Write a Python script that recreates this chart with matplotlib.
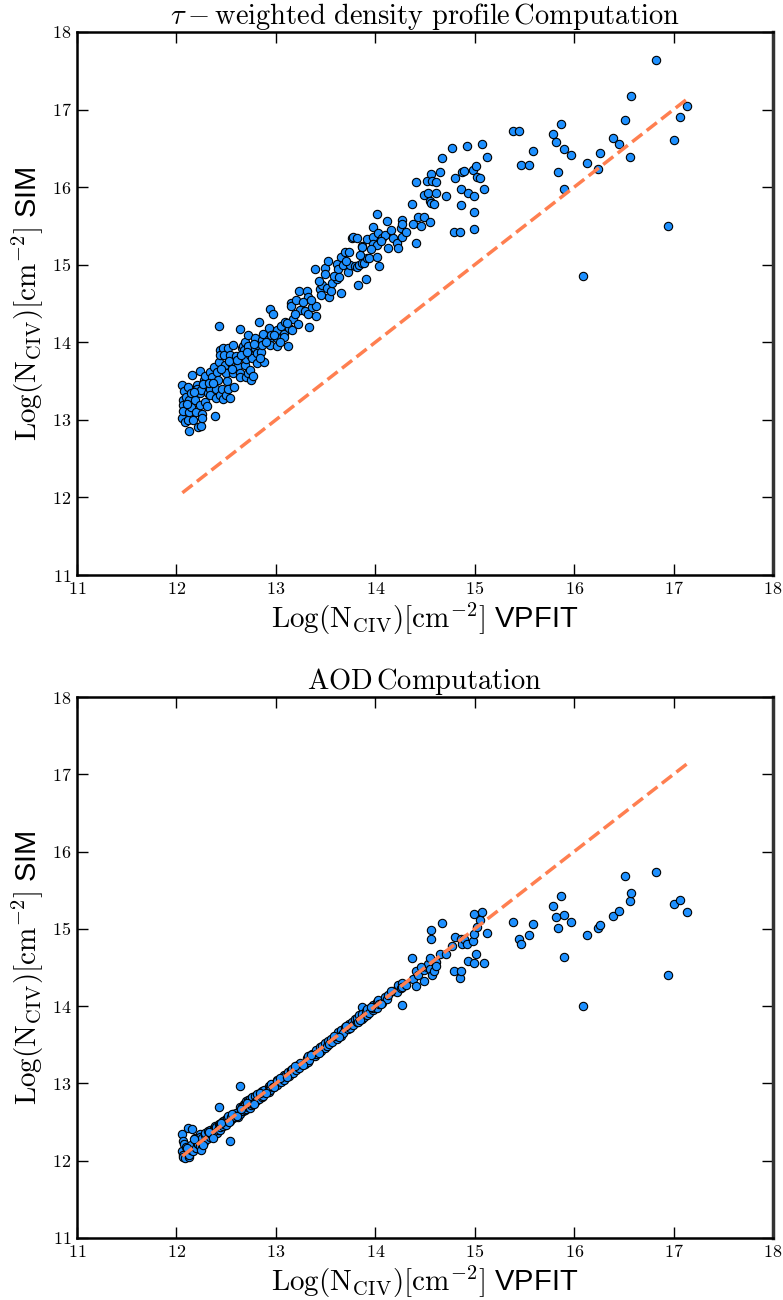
import matplotlib
matplotlib.use("Agg")
import matplotlib.pyplot as plt

# ---------------- data ----------------
vpfit = [
    # 12.06 - 12.32
    12.06, 12.06, 12.07, 12.07, 12.07, 12.08, 12.09, 12.10, 12.12, 12.12, 12.13, 12.13, 12.13, 12.15, 12.15, 12.16, 12.17,
    12.19, 12.20, 12.21, 12.21, 12.22, 12.24, 12.24, 12.24, 12.25, 12.25, 12.26, 12.26, 12.28, 12.29, 12.29, 12.31, 12.32,
    # 12.34 - 12.60
    12.34, 12.34, 12.34, 12.36, 12.38, 12.39, 12.40, 12.40, 12.41, 12.42, 12.43, 12.43, 12.44, 12.44, 12.44, 12.46,
    12.47, 12.47, 12.48, 12.49, 12.50, 12.50, 12.51, 12.52, 12.52, 12.54, 12.54, 12.55, 12.57, 12.57, 12.58, 12.60,
    # 12.62 - 12.88
    12.62, 12.64, 12.64, 12.64, 12.66, 12.67, 12.68, 12.69, 12.69, 12.70, 12.70, 12.72, 12.72, 12.72, 12.74,
    12.74, 12.75, 12.76, 12.77, 12.79, 12.79, 12.81, 12.81, 12.83, 12.85, 12.86, 12.86, 12.87, 12.88,
    # 12.93 - 13.36
    12.93, 12.93, 12.94, 12.94, 12.95, 12.97, 13.01, 13.01, 13.01, 13.05, 13.08, 13.08, 13.09, 13.12, 13.13,
    13.15, 13.15, 13.16, 13.17, 13.20, 13.22, 13.23, 13.24, 13.29, 13.31, 13.32, 13.32, 13.33, 13.36,
    # 13.39 - 13.94
    13.39, 13.40, 13.40, 13.44, 13.45, 13.46, 13.49, 13.49, 13.51, 13.52, 13.53, 13.55, 13.56, 13.61, 13.61, 13.63,
    13.66, 13.66, 13.68, 13.70, 13.73, 13.74, 13.75, 13.77, 13.78, 13.80, 13.82, 13.82, 13.83, 13.84, 13.87, 13.87,
    13.87, 13.89, 13.91, 13.92, 13.92, 13.94,
    # 13.98 - 14.49
    13.98, 13.98, 13.98, 14.02, 14.02, 14.02, 14.03, 14.04, 14.07, 14.10, 14.12, 14.13, 14.18, 14.22, 14.23, 14.26,
    14.27, 14.27, 14.27, 14.37, 14.38, 14.41, 14.41, 14.43, 14.49, 14.49,
    # 14.52 - 15.12
    14.52, 14.53, 14.55, 14.55, 14.56, 14.56, 14.57, 14.59, 14.61, 14.61, 14.65, 14.67, 14.71, 14.77, 14.79, 14.80,
    14.85, 14.86, 14.86, 14.87, 14.89, 14.92, 14.93, 14.98, 14.99, 14.99, 14.99, 15.01, 15.02, 15.05, 15.07, 15.09, 15.12,
    # sparse high end
    15.39, 15.45, 15.47, 15.55, 15.59, 15.79, 15.82, 15.84, 15.87, 15.90, 15.90, 15.97, 16.09, 16.13, 16.24, 16.26,
    16.39, 16.45, 16.51, 16.56, 16.57, 16.82, 16.94, 17.00, 17.06, 17.14,
    # further points inside the dense band
    12.11, 12.18, 12.27, 12.33, 12.37, 12.45, 12.53, 12.56, 12.61, 12.65, 12.71, 12.78, 12.84, 12.90, 12.98,
    13.04, 13.11, 13.19, 13.27, 13.35, 13.43, 13.58, 13.64, 13.71, 13.85, 13.96, 14.06, 14.16, 14.31, 14.46,
]

sim_tau = [
    13.45, 13.02, 13.26, 13.19, 13.12, 13.37, 12.97, 13.30, 13.42, 13.00, 13.25, 13.10, 12.86, 13.34, 13.17, 13.58, 13.00,
    13.26, 13.10, 13.45, 13.40, 12.91, 13.63, 13.34, 13.19, 13.39, 12.92, 13.08, 13.03, 13.52, 13.57, 13.23, 13.18, 13.35,
    13.62, 13.40, 13.32, 13.55, 13.68, 13.05, 13.40, 13.28, 13.62, 13.51, 13.75, 14.21, 13.90, 13.83, 13.32, 13.40,
    13.92, 13.27, 13.83, 13.71, 13.61, 13.32, 13.50, 13.92, 13.40, 13.83, 13.28, 13.73, 13.96, 13.61, 13.43, 13.82,
    13.69, 14.17, 13.60, 13.55, 13.93, 13.95, 13.90, 14.01, 13.71, 13.79, 13.55, 14.09, 13.95, 13.61, 13.84,
    13.64, 13.52, 13.80, 13.57, 14.05, 13.93, 13.86, 13.73, 14.26, 13.88, 14.03, 13.96, 14.11, 13.75,
    14.18, 14.04, 14.43, 13.96, 14.09, 14.36, 14.16, 14.05, 13.95, 14.21, 14.11, 14.07, 14.26, 13.95, 14.19,
    14.51, 14.47, 14.16, 14.30, 14.54, 14.23, 14.66, 14.42, 14.40, 14.66, 14.59, 14.36, 14.20, 14.45,
    14.95, 14.47, 14.34, 14.69, 14.61, 14.74, 14.96, 14.88, 14.70, 15.05, 14.58, 14.66, 14.77, 15.01, 14.81, 14.94,
    15.10, 14.63, 14.99, 15.17, 14.91, 15.17, 15.00, 15.35, 15.36, 14.98, 15.34, 14.97, 14.74, 15.00, 15.24, 15.23,
    15.02, 15.02, 14.81, 15.33, 15.09, 15.09,
    15.48, 15.36, 15.27, 15.66, 15.26, 15.10, 15.41, 14.98, 15.34, 15.38, 15.56, 15.21, 15.35, 15.28, 15.22, 15.47,
    15.58, 15.52, 15.36, 15.78, 15.53, 16.06, 15.28, 15.61, 15.90, 15.62,
    16.08, 15.93, 15.82, 15.55, 16.17, 15.79, 16.08, 15.78, 16.07, 15.92, 16.19, 16.38, 15.89, 16.51, 15.42, 16.12,
    15.42, 15.97, 15.77, 16.20, 16.21, 16.53, 15.92, 16.22, 15.89, 15.68, 15.46, 16.27, 16.13, 16.12, 16.55, 15.98, 16.39,
    16.73, 16.73, 16.28, 16.28, 16.47, 16.68, 16.58, 16.20, 16.82, 16.49, 15.98, 16.41, 14.85, 16.31, 16.24, 16.44,
    16.63, 16.56, 16.86, 16.39, 17.17, 17.64, 15.50, 16.61, 16.90, 17.05,
    13.20, 13.36, 13.46, 13.48, 13.47, 13.66, 13.76, 13.66, 13.77, 13.83, 13.87, 13.98, 13.80, 14.00, 14.10,
    14.00, 14.25, 14.36, 14.52, 14.55, 14.79, 14.86, 14.84, 15.05, 15.12, 15.20, 15.30, 15.45, 15.42, 15.50,
]

sim_aod = [
    12.34, 12.12, 12.25, 12.08, 12.05, 12.22, 12.03, 12.18, 12.42, 12.10, 12.09, 12.05, 12.07, 12.14, 12.20, 12.41, 12.13,
    12.30, 12.16, 12.23, 12.26, 12.22, 12.35, 12.19, 12.31, 12.14, 12.27, 12.22, 12.30, 12.24, 12.33, 12.36, 12.28, 12.38,
    12.31, 12.40, 12.36, 12.33, 12.42, 12.45, 12.36, 12.44, 12.36, 12.40, 12.69, 12.47, 12.48, 12.40, 12.43, 12.50,
    12.45, 12.52, 12.47, 12.53, 12.50, 12.46, 12.55, 12.51, 12.58, 12.25, 12.52, 12.56, 12.60, 12.55, 12.57, 12.62,
    12.57, 12.97, 12.70, 12.60, 12.69, 12.64, 12.73, 12.66, 12.74, 12.77, 12.67, 12.70, 12.79, 12.76, 12.68,
    12.80, 12.72, 12.82, 12.73, 12.84, 12.76, 12.78, 12.86, 12.80, 12.89, 12.83, 12.90, 12.84, 12.92,
    12.89, 12.97, 12.95, 12.91, 12.99, 12.95, 13.04, 12.98, 13.03, 13.02, 13.11, 13.05, 13.10, 13.15, 13.09,
    13.18, 13.13, 13.19, 13.14, 13.17, 13.24, 13.20, 13.27, 13.25, 13.33, 13.28, 13.35, 13.30, 13.38,
    13.36, 13.43, 13.38, 13.47, 13.42, 13.49, 13.46, 13.52, 13.48, 13.55, 13.51, 13.58, 13.53, 13.63, 13.58, 13.66,
    13.62, 13.69, 13.65, 13.73, 13.70, 13.77, 13.72, 13.80, 13.75, 13.83, 13.79, 13.85, 13.80, 13.88, 13.99, 13.84,
    13.90, 13.86, 13.94, 13.89, 13.96, 13.91,
    13.95, 14.01, 13.98, 14.06, 14.00, 13.97, 14.08, 14.03, 14.04, 14.12, 14.09, 14.15, 14.20, 14.18, 14.27, 14.24,
    14.02, 14.30, 14.25, 14.62, 14.35, 14.26, 14.45, 14.40, 14.47, 14.33,
    14.50, 14.55, 14.48, 14.62, 14.98, 14.87, 14.40, 14.45, 14.57, 14.52, 14.68, 15.08, 14.68, 14.78, 14.45, 14.89,
    14.37, 14.45, 14.87, 14.81, 14.87, 14.80, 14.59, 14.84, 15.19, 14.93, 14.56, 14.68, 15.02, 15.11, 15.22, 14.56, 14.94,
    15.09, 14.87, 14.81, 14.92, 15.06, 15.29, 15.15, 15.01, 15.42, 15.18, 14.63, 15.09, 14.00, 14.92, 15.01, 15.05,
    15.16, 15.23, 15.68, 15.36, 15.46, 15.74, 14.40, 15.32, 15.37, 15.22,
    12.16, 12.28, 12.20, 12.37, 12.29, 12.49, 12.50, 12.60, 12.58, 12.67, 12.75, 12.74, 12.87, 12.88, 12.96,
    13.07, 13.08, 13.22, 13.24, 13.37, 13.40, 13.61, 13.60, 13.74, 13.82, 13.99, 14.03, 14.19, 14.28, 14.50,
]

ticks = [11, 12, 13, 14, 15, 16, 17, 18]
titles = [r"$\tau-\mathrm{weighted\ density\ profile\,Computation}$",
          r"$\mathrm{AOD\,Computation}$"]
xlabel = r"$\mathrm{Log(N_{CIV})[cm^{-2}]}$ VPFIT"
ylabel = r"$\mathrm{Log(N_{CIV})[cm^{-2}]}$ SIM"

# ---------------- styling ----------------
plt.rcParams['font.family'] = ['Liberation Sans', 'DejaVu Sans']
plt.rcParams['mathtext.fontset'] = 'cm'

fig = plt.figure(figsize=(7.83, 13.0), dpi=100)
W, H = 783.0, 1300.0
left, right = 77 / W, 773 / W
panels = [(32, 575), (697, 1238)]

lo, hi = min(vpfit), max(vpfit)
for (top_px, bot_px), title, ys in zip(panels, titles, [sim_tau, sim_aod]):
    ax = fig.add_axes([left, 1 - bot_px / H, right - left, (bot_px - top_px) / H])
    ax.scatter(vpfit, ys, s=36, facecolor='#1E90FF', edgecolor='black', linewidth=0.8, zorder=2)
    ax.plot([lo, hi], [lo, hi], linestyle='--', color='#FF7F50', linewidth=2.5, zorder=3)
    ax.set_xlim(11, 18)
    ax.set_ylim(11, 18)
    ax.set_xticks(ticks)
    ax.set_yticks(ticks)
    ax.set_xticklabels([f"${t}$" for t in ticks], fontsize=13)
    ax.set_yticklabels([f"${t}$" for t in ticks], fontsize=13)
    ax.tick_params(direction='in', length=8, width=1.0, top=True, right=True, pad=4)
    for sp in ax.spines.values():
        sp.set_linewidth(1.8)
    ax.spines['right'].set_color('#333333')
    ax.spines['right'].set_linewidth(2.5)
    ax.set_title(title, fontsize=20.5, pad=6)
    ax.set_xlabel(xlabel, fontsize=21, labelpad=2)
    ax.set_ylabel(ylabel, fontsize=21, labelpad=4)

fig.savefig("out.png", dpi=100)
